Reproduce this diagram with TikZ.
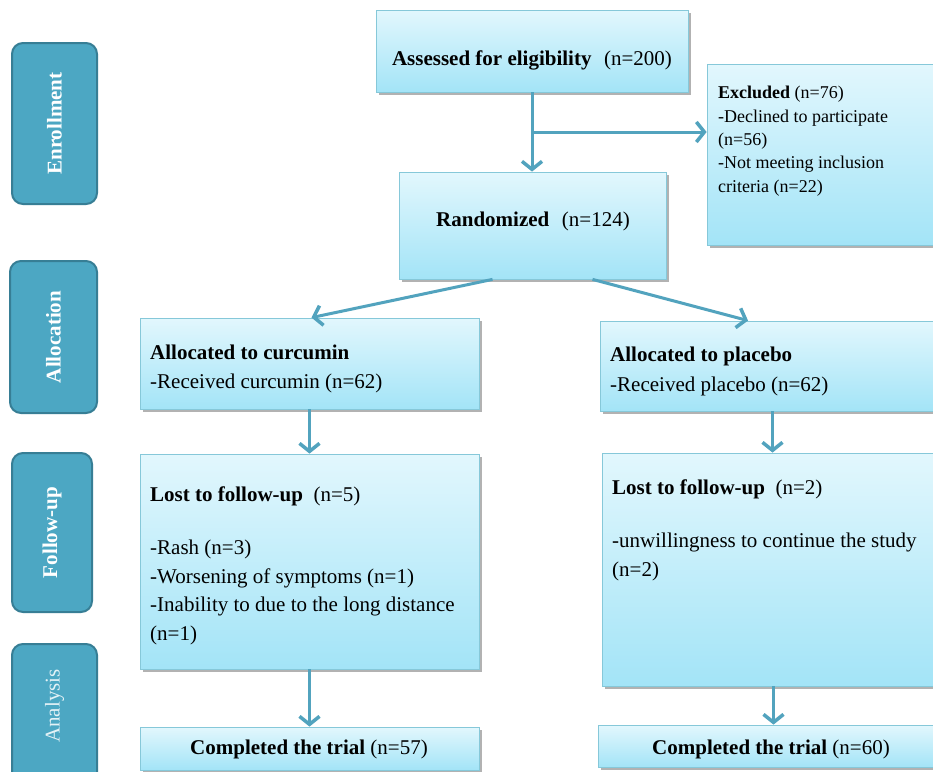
\documentclass[tikz,border=0pt]{standalone}
\usepackage{fontspec}
\setmainfont{Liberation Serif}
\usetikzlibrary{arrows.meta,shadows,calc}
\definecolor{boxtop}{HTML}{E2F7FD}
\definecolor{boxbot}{HTML}{A3E4F7}
\definecolor{boxline}{HTML}{86C8D9}
\definecolor{stagefill}{HTML}{4CA7C3}
\definecolor{stageline}{HTML}{377E95}
\definecolor{arrcol}{HTML}{52A3BE}
\begin{document}
\begin{tikzpicture}[x=1pt,y=-1pt,
 box/.style={draw=boxline, line width=0.8pt, top color=boxtop, bottom color=boxbot, inner sep=0pt,
   drop shadow={shadow xshift=2.5pt,shadow yshift=-2.5pt,fill=black,opacity=0.3}},
 stage/.style={draw=stageline, line width=2pt, fill=stagefill, rounded corners=11pt, inner sep=0pt},
 stagetxt/.style={text=white, inner sep=0pt, font=\fontsize{21}{24}\selectfont\bfseries, rotate=90},
 txt/.style={inner sep=0pt, font=\fontsize{21}{28.5}\selectfont, align=left},
 arr/.style={draw=arrcol, line width=3pt, -{Straight Barb[length=8pt,width=20pt,line width=3.5pt]}},
]
\useasboundingbox (0,0) rectangle (933,771);
\fill[white] (0,0) rectangle (933,771);

% stage labels
\node[stage, minimum width=85pt, minimum height=161pt] (enr) at (54.5,123.5) {};
\node[stage, minimum width=87pt, minimum height=152pt] (allo) at (53.5,337) {};
\node[stage, minimum width=80pt, minimum height=159pt] (fol) at (52,532.5) {};
\node[stage, minimum width=85pt, minimum height=146pt] (ana) at (54.5,717) {};
\node[stagetxt] (tenr) at (enr.center) {Enrollment};
\node[stagetxt] (tallo) at (allo.center) {Allocation};
\node[stagetxt] (tfol) at (fol.center) {Follow-up};
\node[stagetxt, font=\fontsize{21}{24}\selectfont, text=white!85!stagefill] (tana) at (54.5,706) {Analysis};

% boxes
\node[box, minimum width=312pt, minimum height=82pt] (assess) at (532,51) {};
\node[box, minimum width=238pt, minimum height=181pt] (excl) at (826,154.5) {};
\node[box, minimum width=267pt, minimum height=107pt] (rand) at (532.5,225.5) {};
\node[box, minimum width=339pt, minimum height=91pt] (allocC) at (309.5,363.5) {};
\node[box, minimum width=345pt, minimum height=90pt] (allocP) at (772.5,366) {};
\node[box, minimum width=339pt, minimum height=215pt] (lostC) at (309.5,561.5) {};
\node[box, minimum width=343pt, minimum height=233pt] (lostP) at (773.5,569.5) {};
\node[box, minimum width=339pt, minimum height=43pt] (compC) at (309.5,748.5) {};
\node[box, minimum width=347pt, minimum height=42pt] (compP) at (771.5,746) {};

% texts (base anchor = baseline of the last line)
\node[txt, anchor=base] (tassess) at (532,65) {\textbf{Assessed for eligibility}\hspace{0.6em}(n=200)};
\node[txt, font=\fontsize{18}{23.3}\selectfont, anchor=base west] (texcl) at (718,192)
  {\textbf{Excluded} (n=76)\\-Declined to participate\\(n=56)\\-Not meeting inclusion\\criteria (n=22)};
\node[txt, anchor=base] (trand) at (533,226) {\textbf{Randomized}\hspace{0.6em}(n=124)};
\node[txt, anchor=base west] (tallocC) at (150,388) {\textbf{Allocated to curcumin}\\-Received curcumin (n=62)};
\node[txt, anchor=base west, font=\fontsize{21}{29.5}\selectfont] (tallocP) at (610,391) {\textbf{Allocated to placebo}\\-Received placebo (n=62)};
\node[txt, anchor=base west] (tlostC) at (150,501) {\textbf{Lost to follow-up}\hspace{0.5em}(n=5)};
\node[txt, anchor=base west] (tlostCb) at (150,640) {-Rash (n=3)\\-Worsening of symptoms (n=1)\\-Inability to due to the long distance\\(n=1)};
\node[txt, anchor=base west] (tlostP) at (612,494) {\textbf{Lost to follow-up}\hspace{0.5em}(n=2)};
\node[txt, anchor=base west] (tlostPb) at (612,576) {-unwillingness to continue the study\\(n=2)};
\node[txt, anchor=base] (tcompC) at (309,754) {\textbf{Completed the trial} (n=57)};
\node[txt, anchor=base] (tcompP) at (771,754) {\textbf{Completed the trial} (n=60)};

% connectors
\coordinate (br) at ($(assess.south)!0.5!(assess.south |- rand.north)$);
\draw[arr] (assess.south) -- (assess.south |- rand.north);
\draw[arr] (br) -- (br -| excl.west);
\draw[arr] ($(rand.south)+(-40,0)$) -- ($(allocC.north)+(2,0)$);
\draw[arr] ($(rand.south)+(60,0)$) -- ($(allocP.north)+(-24.5,0)$);
\draw[arr] (allocC.south) -- (lostC.north);
\draw[arr] (allocP.south) -- (allocP.south |- lostP.north);
\draw[arr] (lostC.south) -- (lostC.south |- compC.north);
\draw[arr] (lostP.south) -- (lostP.south |- compP.north);
\end{tikzpicture}
\end{document}
